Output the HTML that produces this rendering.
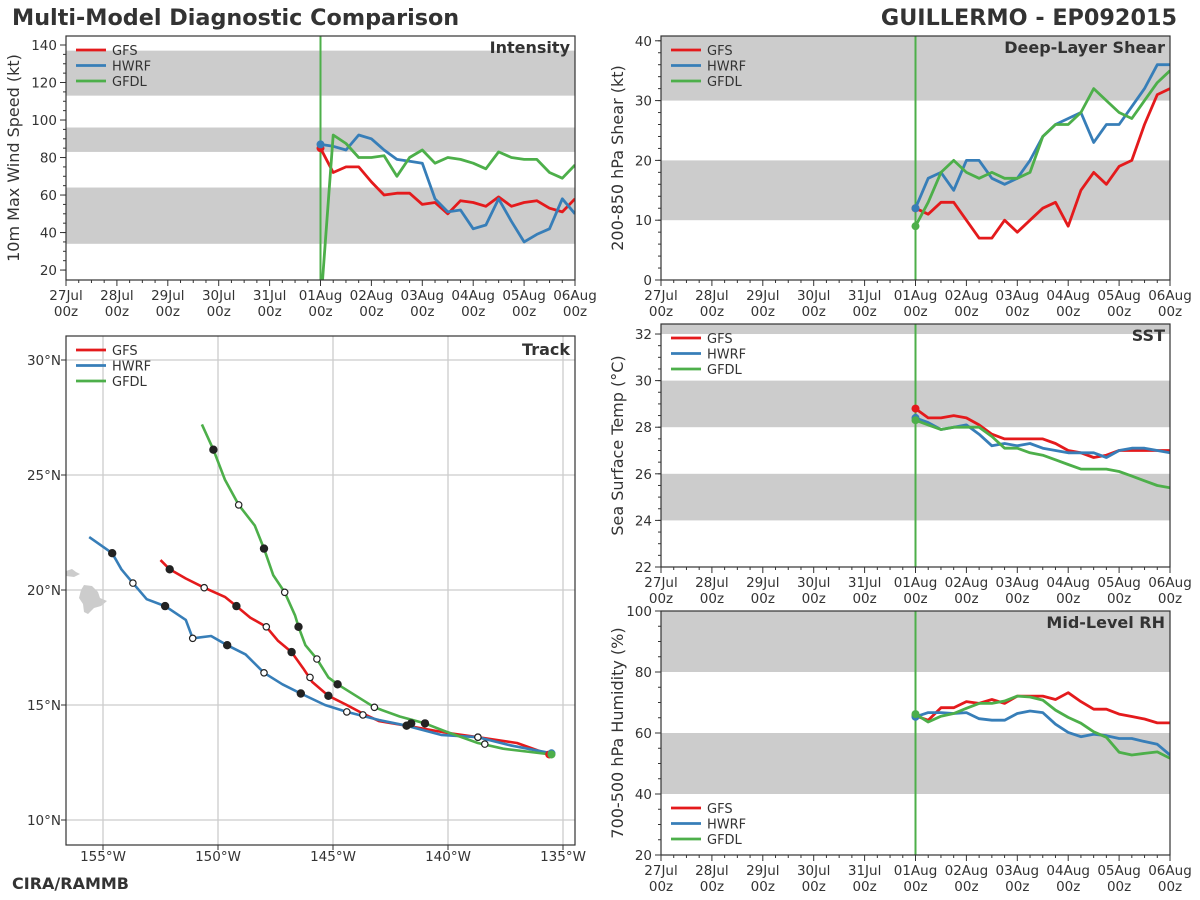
<!DOCTYPE html>
<html><head><meta charset="utf-8"><style>
body{margin:0;background:#fff;}
svg{display:block;font-family:"DejaVu Sans","Liberation Sans",sans-serif;}
</style></head><body>
<svg id="c" width="1200" height="900" viewBox="0 0 1200 900" xmlns="http://www.w3.org/2000/svg">
<text x="12" y="25" font-size="22.3" font-weight="bold" fill="#333">Multi-Model Diagnostic Comparison</text>
<text x="1177" y="25" font-size="22.3" font-weight="bold" fill="#333" text-anchor="end">GUILLERMO - EP092015</text>
<text x="12" y="889" font-size="16" font-weight="bold" fill="#333">CIRA/RAMMB</text>
</svg>
<script>
const dayLabels=['27Jul','28Jul','29Jul','30Jul','31Jul','01Aug','02Aug','03Aug','04Aug','05Aug','06Aug'];
const leadHours=[0,6,12,18,24,30,36,42,48,54,60,66,72,78,84,90,96,102,108,114,120];
const models=['GFS','HWRF','GFDL'];
const intGFS=[85,72,75,75,67,60,61,61,55,56,50,57,56,54,59,54,56,57,53,51,58];
const intHWRF=[87,86,84,92,90,84,79,78,77,58,51,52,42,44,58,46,35,39,42,58,50];
const intGFDL=[0,92,87.5,80,80,81,70,80,84,77,80,79,77,74,83,80,79,79,72,69,76];
const shrGFS=[12,11,13,13,10,7,7,10,8,10,12,13,9,15,18,16,19,20,26,31,32];
const shrHWRF=[12,17,18,15,20,20,17,16,17,20,24,26,27,28,23,26,26,29,32,36,36];
const shrGFDL=[9,13,18,20,18,17,18,17,17,18,24,26,26,28,32,30,28,27,30,33,35];
const sstGFS=[28.8,28.4,28.4,28.5,28.4,28.1,27.7,27.5,27.5,27.5,27.5,27.3,27.0,26.9,26.7,26.8,27.0,27.0,27.0,27.0,27.0];
const sstHWRF=[28.4,28.2,27.9,28.0,28.1,27.7,27.2,27.3,27.2,27.3,27.1,27.0,26.9,26.9,26.9,26.7,27.0,27.1,27.1,27.0,26.9];
const sstGFDL=[28.3,28.1,27.9,28.0,28.0,28.0,27.6,27.1,27.1,26.9,26.8,26.6,26.4,26.2,26.2,26.2,26.1,25.9,25.7,25.5,25.4];
const rhGFS=[65.6,64.2,68.3,68.3,70.3,69.7,71,69.7,72.1,72.1,72.1,71,73.2,70.3,67.8,67.8,66.2,65.4,64.6,63.3,63.3];
const rhHWRF=[65.3,66.7,66.7,66.4,66.7,64.7,64.2,64.2,66.4,67.2,66.7,62.9,60.2,58.8,59.6,59.1,58.2,58.2,57.2,56.3,52.8];
const rhGFDL=[66.2,63.6,65.5,66.4,68.1,69.7,69.7,70.5,72.1,71.8,70.8,67.5,65.1,63.2,60.4,58.6,53.7,52.8,53.3,53.8,51.7];
const trkGFSlon=[-152.5,-152.1,-151.4,-150.6,-149.7,-149.2,-148.6,-147.9,-147.4,-146.8,-146.3,-145.9,-145.2,-144.4,-143.75,-143.0,-141.8,-140.1,-138.7,-137.0,-135.6];
const trkGFSlat=[21.3,20.9,20.5,20.1,19.7,19.3,18.8,18.4,17.8,17.3,16.6,16.0,15.4,15.0,14.65,14.3,14.1,13.8,13.6,13.35,12.85];
const trkHWRFlon=[-155.6,-154.6,-154.2,-153.7,-153.1,-152.3,-151.4,-151.1,-150.3,-149.6,-148.8,-148.0,-147.2,-146.4,-145.35,-144.4,-143.0,-141.8,-140.3,-138.7,-137.3,-135.5];
const trkHWRFlat=[22.3,21.6,20.9,20.3,19.6,19.3,18.7,17.9,18.0,17.6,17.2,16.4,15.9,15.5,15.0,14.7,14.35,14.1,13.7,13.6,13.25,12.9];
const trkGFDLlon=[-150.7,-150.2,-149.7,-149.1,-148.4,-148.0,-147.6,-147.1,-146.65,-146.5,-146.2,-145.7,-145.2,-144.8,-143.2,-142.1,-141.0,-140.1,-138.7,-137.6,-135.5];
const trkGFDLlat=[27.2,26.1,24.8,23.7,22.8,21.8,20.65,19.9,18.9,18.4,17.6,17.0,16.2,15.9,14.9,14.5,14.2,13.85,13.35,13.1,12.85];
const mkGFSlon=[-152.1,-150.6,-149.2,-147.9,-146.8,-146.0,-145.2,-143.7,-141.8,-138.7];
const mkGFSlat=[20.9,20.1,19.3,18.4,17.3,16.2,15.4,14.57,14.1,13.6];
const mkHWRFlon=[-154.6,-153.7,-152.3,-151.1,-149.6,-148.0,-146.4,-144.4,-141.6,-138.7];
const mkHWRFlat=[21.6,20.3,19.3,17.9,17.6,16.4,15.5,14.7,14.2,13.6];
const mkGFDLlon=[-150.2,-149.1,-148.0,-147.1,-146.5,-145.7,-144.8,-143.2,-141.0,-138.4];
const mkGFDLlat=[26.1,23.7,21.8,19.9,18.4,17.0,15.9,14.9,14.2,13.3];
const lonTicks=[-155,-150,-145,-140,-135];
const latTicks=[10,15,20,25,30];
const colors={GFS:'#e41a1c',HWRF:'#377eb8',GFDL:'#4daf4a'};

const svg=document.getElementById('c');
const NS='http://www.w3.org/2000/svg';
function mk(tag,attrs,parent){const e=document.createElementNS(NS,tag);for(const k in attrs)e.setAttribute(k,attrs[k]);(parent||svg).appendChild(e);return e;}

function timePanel(o){
  const g=mk('g',{});
  
  
  const {x0,x1,y0,y1,vmin,vmax}=o;
  const sx=h=>x0+(h+120)/240*(x1-x0);
  const sy=v=>y1-(v-vmin)/(vmax-vmin)*(y1-y0);
  const cid='clip-'+o.name;
  const cp=mk('clipPath',{id:cid},g);mk('rect',{x:x0,y:y0,width:x1-x0,height:y1-y0},cp);
  o.bands.forEach(b=>{
    const r=mk('rect',{x:x0,y:sy(Math.min(b[1],vmax)),width:x1-x0,height:sy(b[0])-sy(Math.min(b[1],vmax)),fill:'#cccccc'},g);
    
    
  });
  const vl=mk('line',{x1:sx(0),x2:sx(0),y1:y0,y2:y1,stroke:'#4daf4a','stroke-width':2},g);
  
  
  models.forEach((m,mi)=>{
    const vals=o.series[mi];
    const pts=vals.map((v,i)=>sx(leadHours[i]).toFixed(1)+','+sy(v).toFixed(1)).join(' ');
    const pl=mk('polyline',{points:pts,fill:'none',stroke:colors[m],'stroke-width':2.8,'stroke-linejoin':'round','clip-path':'url(#'+cid+')'},g);
    
    
    if(vals[0]>=vmin){
      const d=mk('circle',{cx:sx(0),cy:sy(vals[0]),r:4,fill:colors[m]},g);
      
      
    }
  });
  mk('rect',{x:x0,y:y0,width:x1-x0,height:y1-y0,fill:'none',stroke:'#333','stroke-width':1.2},g);
  for(let h=-120;h<=120;h+=6){
    const x=sx(h);const major=h%24===0;
    mk('line',{x1:x,x2:x,y1:y1,y2:y1+(major?6:3),stroke:'#333'},g);
  }
  dayLabels.forEach((d,i)=>{
    const x=sx(i*24-120);
    const t=mk('text',{x:x,y:y1+20,'font-size':13.5,'text-anchor':'middle',fill:'#333'},g);t.textContent=d;
    
    
    const t2=mk('text',{x:x,y:y1+36,'font-size':13.5,'text-anchor':'middle',fill:'#333'},g);t2.textContent='00z';
    
    
  });
  o.ticks.forEach(v=>{
    const y=sy(v);
    mk('line',{x1:x0-6,x2:x0,y1:y,y2:y,stroke:'#333'},g);
    const t=mk('text',{x:x0-9,y:y+5,'font-size':13.5,'text-anchor':'end',fill:'#333'},g);t.textContent=v;
    
    
  });
  for(let v=o.ticks[0];v<=vmax;v+=o.minor){const y=sy(v);if(y>=y0)mk('line',{x1:x0-3,x2:x0,y1:y,y2:y,stroke:'#333'},g);}
  const yt=mk('text',{transform:`translate(${x0-o.ytOff},${(y0+y1)/2}) rotate(-90)`,'font-size':16,'text-anchor':'middle',fill:'#333'},g);
  yt.textContent=o.ytitle;
  
  
  const pt=mk('text',{x:x1-5,y:y0+17,'font-size':16,'font-weight':'bold','text-anchor':'end',fill:'#333'},g);
  pt.textContent=o.title;
  
  
  if(o.legend) legend(g,x0+10,o.legendY);
}
function legend(g,x,y){
  const lg=mk('g',{},g);
  
  
  models.forEach((m,i)=>{
    const yy=y+i*15.5;
    const e=mk('g',{},lg);
    
    
    mk('line',{x1:x,x2:x+30,y1:yy,y2:yy,stroke:colors[m],'stroke-width':2.8},e);
    const t=mk('text',{x:x+36,y:yy+5,'font-size':13,fill:'#333'},e);t.textContent=m;
  });
}
timePanel({name:'intensity',x0:66,x1:575,y0:36,y1:280,vmin:14.7,vmax:144.8,bands:[[34,64],[83,96],[113,137]],series:[intGFS,intHWRF,intGFDL],ticks:[20,40,60,80,100,120,140],minor:5,ytitle:'10m Max Wind Speed (kt)',ytOff:47,title:'Intensity',legend:true,legendY:50});
timePanel({name:'shear',x0:661,x1:1170,y0:36,y1:280,vmin:0,vmax:40.8,bands:[[10,20],[30,41]],series:[shrGFS,shrHWRF,shrGFDL],ticks:[0,10,20,30,40],minor:2,ytitle:'200-850 hPa Shear (kt)',ytOff:38,title:'Deep-Layer Shear',legend:true,legendY:50});
timePanel({name:'sst',x0:661,x1:1170,y0:324,y1:567,vmin:22,vmax:32.43,bands:[[24,26],[28,30],[32,33]],series:[sstGFS,sstHWRF,sstGFDL],ticks:[22,24,26,28,30,32],minor:0.5,ytitle:'Sea Surface Temp (°C)',ytOff:38,title:'SST',legend:true,legendY:338});
timePanel({name:'rh',x0:661,x1:1170,y0:611,y1:855,vmin:20,vmax:100,bands:[[40,60],[80,100]],series:[rhGFS,rhHWRF,rhGFDL],ticks:[20,40,60,80,100],minor:5,ytitle:'700-500 hPa Humidity (%)',ytOff:38,title:'Mid-Level RH',legend:true,legendY:808});

(function(){
  const x0=66,x1=575,y0=336,y1=845;
  const sx=lon=>103+(lon+155)*23;
  const sy=lat=>360-(lat-30)*23;
  const g=mk('g',{});
  
  
  const cp=mk('clipPath',{id:'clip-trk'},g);mk('rect',{x:x0,y:y0,width:x1-x0,height:y1-y0},cp);
  lonTicks.forEach(l=>{
    mk('line',{x1:sx(l),x2:sx(l),y1:y0,y2:y1,stroke:'#cccccc','stroke-width':1.3},g);
    mk('line',{x1:sx(l),x2:sx(l),y1:y1,y2:y1+5,stroke:'#333'},g);
    const t=mk('text',{x:sx(l),y:y1+16,'font-size':13.5,'text-anchor':'middle',fill:'#333'},g);t.textContent=Math.abs(l)+'°W';
    
    
  });
  latTicks.forEach(l=>{
    mk('line',{x1:x0,x2:x1,y1:sy(l),y2:sy(l),stroke:'#cccccc','stroke-width':1.3},g);
    mk('line',{x1:x0-5,x2:x0,y1:sy(l),y2:sy(l),stroke:'#333'},g);
    const t=mk('text',{x:x0-5,y:sy(l)+5,'font-size':13.5,'text-anchor':'end',fill:'#333'},g);t.textContent=l+'°N';
    
    
  });
  const hi=mk('g',{fill:'#cccccc','clip-path':'url(#clip-trk)'},g);
  
  
  mk('path',{d:'M84,585 L92,586 L98,592 L100,598 L107,601 L101,606 L94,608 L88,614 L84,612 L83,604 L79,598 L81,590 Z'},hi);
  mk('path',{d:'M66,571 L72,569 L76,572 L80,574 L74,577 L66,576 Z'},hi);
  const tracks=[[trkGFSlon,trkGFSlat],[trkHWRFlon,trkHWRFlat],[trkGFDLlon,trkGFDLlat]];
  const marks=[[mkGFSlon,mkGFSlat],[mkHWRFlon,mkHWRFlat],[mkGFDLlon,mkGFDLlat]];
  models.forEach((m,mi)=>{
    const [lo,la]=tracks[mi];
    const pts=lo.map((v,i)=>sx(v).toFixed(1)+','+sy(la[i]).toFixed(1)).join(' ');
    const pl=mk('polyline',{points:pts,fill:'none',stroke:colors[m],'stroke-width':2.6,'stroke-linejoin':'round','clip-path':'url(#clip-trk)'},g);
    
    
  });
  models.forEach((m,mi)=>{
    const [lo,la]=tracks[mi];
    const d=mk('circle',{cx:sx(lo[lo.length-1]),cy:sy(la[la.length-1]),r:4,fill:colors[m]},g);
    
    
    const [ml,mt]=marks[mi];
    ml.forEach((v,i)=>{
      const c=mk('circle',{cx:sx(v),cy:sy(mt[i]),r:i%2===0?3.6:3.2,fill:i%2===0?'#222':'#fff',stroke:'#222','stroke-width':1.2},g);
      
      
    });
  });
  mk('rect',{x:x0,y:y0,width:x1-x0,height:y1-y0,fill:'none',stroke:'#333','stroke-width':1.2},g);
  const pt=mk('text',{x:x1-5,y:y0+19,'font-size':16,'font-weight':'bold','text-anchor':'end',fill:'#333'},g);
  pt.textContent='Track';
  
  
  legend(g,x0+10,350);
})();
</script>
</body></html>
